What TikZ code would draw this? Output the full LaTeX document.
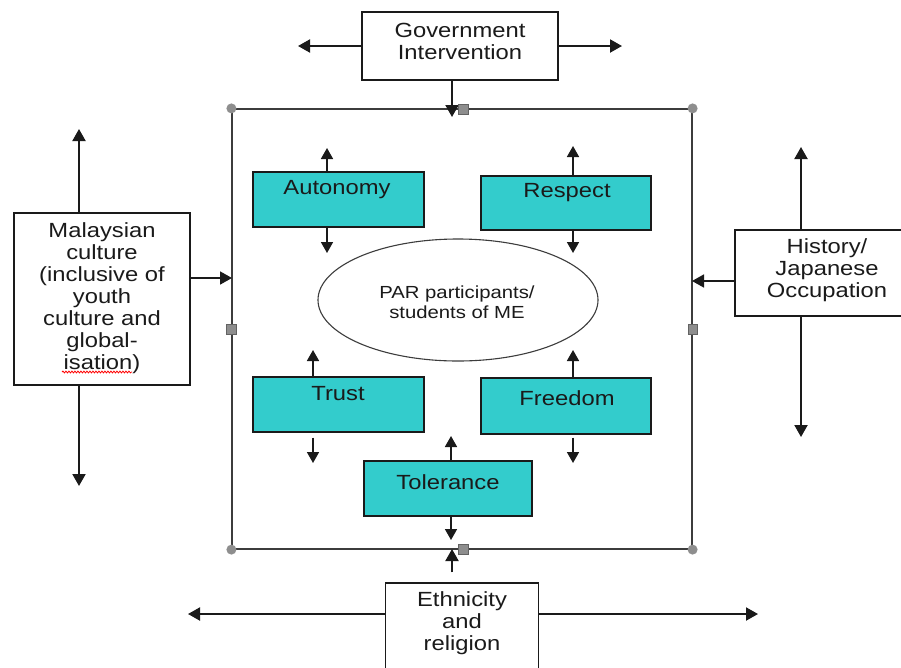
\documentclass[tikz,border=0pt]{standalone}
\usepackage{fontspec}
\setmainfont{Liberation Sans}[FakeStretch=1.16]
\usetikzlibrary{arrows.meta,decorations.pathmorphing,shapes.geometric}
\definecolor{tealbox}{HTML}{33CCCC}
\definecolor{handle}{HTML}{8E8E8E}
\definecolor{ink}{HTML}{1A1A1A}
\tikzset{
  wbox/.style={draw=ink, line width=1.3pt, fill=white, inner sep=0pt},
  tbox/.style={draw=ink, line width=1.3pt, fill=tealbox, inner sep=0pt},
  txt/.style={font=\fontsize{20.5}{22}\selectfont, align=center, text=ink, inner sep=0pt},
  partxt/.style={font=\fontsize{17.5}{20}\selectfont, align=center, text=ink, inner sep=0pt},
  arr/.style={draw=ink, line width=2pt, -{Triangle[length=12pt,width=13pt]}},
  iarr/.style={draw=ink, line width=1.7pt, -{Triangle[length=11pt,width=12pt]}},
  hcirc/.style={circle, fill=handle, inner sep=0pt, minimum size=10pt},
  hsq/.style={rectangle, fill=handle, draw=handle!70!black, line width=0.4pt, inner sep=0pt, minimum size=9.5pt},
}
\begin{document}
\begin{tikzpicture}[x=1pt,y=-1pt]
\clip (0,0) rectangle (901,667);
\fill[white] (0,0) rectangle (901,667);

% main frame
\node[draw=ink!85, line width=1.2pt, minimum width=460pt, minimum height=440pt, inner sep=0pt] (main) at (462,329) {};

% outer boxes
\node[wbox, minimum width=196pt, minimum height=68pt] (gov) at (460,46) {};
\node[txt] (govt) at (460,41) {Government\\Intervention};

\node[wbox, minimum width=176pt, minimum height=172pt] (mal) at (102,299) {};
\node[txt] (malt) at (102,298) {Malaysian\\culture\\(inclusive of\\youth\\culture and\\global-\\isation)};

\node[wbox, minimum width=184pt, minimum height=86pt] (hist) at (827,273) {};
\node[txt] (histt) at (827,270) {History/\\Japanese\\Occupation};

\node[wbox, minimum width=153pt, minimum height=100pt] (eth) at (462,633) {};
\node[txt] (etht) at (462,623) {Ethnicity\\and\\religion};

% centre ellipse
\node[draw=ink!85, line width=1.1pt, ellipse, minimum width=280pt, minimum height=122pt, inner sep=0pt] (par) at (458,300) {};
\node[partxt] (part) at (457,302) {PAR participants/\\students of ME};

% teal boxes
\node[tbox, minimum width=171pt, minimum height=55pt] (aut) at (338.5,199.5) {};
\node[txt] at (337,190) {Autonomy};
\node[tbox, minimum width=170pt, minimum height=54pt] (resp) at (566,203) {};
\node[txt] at (567,193) {Respect};
\node[tbox, minimum width=171pt, minimum height=55pt] (trust) at (338.5,404.5) {};
\node[txt] at (338,394) {Trust};
\node[tbox, minimum width=170pt, minimum height=56pt] (free) at (566,406) {};
\node[txt] at (567,398) {Freedom};
\node[tbox, minimum width=168pt, minimum height=55pt] (tol) at (448,488.5) {};
\node[txt] at (448,482) {Tolerance};

% spell-check squiggle
\draw[red, line width=0.8pt, decorate, decoration={snake, amplitude=0.9pt, segment length=3pt}] (62,372) -- (132,372);

% coordinates for free arrow ends
\coordinate (govL) at (298,46);
\coordinate (govR) at (622,46);
\coordinate (govD) at (452,117);
\coordinate (malU) at (79,129);
\coordinate (malD) at (79,486);
\coordinate (malR) at (232,278);
\coordinate (histU) at (801,147);
\coordinate (histD) at (801,437);
\coordinate (histL) at (692,281);
\coordinate (ethL) at (188,614);
\coordinate (ethR) at (758,614);
\coordinate (ethU) at (452,549);

% outer arrows
\draw[arr] (gov.west) -- (govL);
\draw[arr] (gov.east) -- (govR);
\draw[arr] (gov.south -| govD) -- (govD);
\draw[arr] (mal.north -| malU) -- (malU);
\draw[arr] (mal.south -| malD) -- (malD);
\draw[arr, line width=1.7pt] (mal.east |- malR) -- (malR);
\draw[arr] (hist.north -| histU) -- (histU);
\draw[arr] (hist.south -| histD) -- (histD);
\draw[arr, line width=1.7pt] (hist.west |- histL) -- (histL);
\draw[arr] (eth.west |- ethL) -- (ethL);
\draw[arr] (eth.east |- ethR) -- (ethR);
\draw[arr] ([yshift=10pt]eth.north -| ethU) -- (ethU);

% inner arrows
\coordinate (autU) at (327,148);
\coordinate (autD) at (327,253);
\coordinate (respU) at (573,146);
\coordinate (respD) at (573,253);
\coordinate (trU) at (313,350);
\coordinate (trD) at (313,463);
\coordinate (frU) at (573,350);
\coordinate (frD) at (573,463);
\coordinate (tolU) at (451,436);
\coordinate (tolD) at (451,540);
\draw[iarr] (aut.north -| autU) -- (autU);
\draw[iarr] (aut.south -| autD) -- (autD);
\draw[iarr] (resp.north -| respU) -- (respU);
\draw[iarr] (resp.south -| respD) -- (respD);
\draw[iarr] (trust.north -| trU) -- (trU);
\draw[iarr] ([yshift=-5pt]trust.south -| trD) -- (trD);
\draw[iarr] (free.north -| frU) -- (frU);
\draw[iarr] ([yshift=-3pt]free.south -| frD) -- (frD);
\draw[iarr] (tol.north -| tolU) -- (tolU);
\draw[iarr] (tol.south -| tolD) -- (tolD);

% handles on frame
\node[hcirc] (h1) at (main.north west) {};
\node[hcirc] (h2) at (main.north east) {};
\node[hcirc] (h3) at (main.south west) {};
\node[hcirc] (h4) at (main.south east) {};
\node[hsq] (s1) at (463,109) {};
\node[hsq] (s2) at (463,549) {};
\node[hsq] (s3) at (main.west) {};
\node[hsq] (s4) at (main.east) {};
\end{tikzpicture}
\end{document}
